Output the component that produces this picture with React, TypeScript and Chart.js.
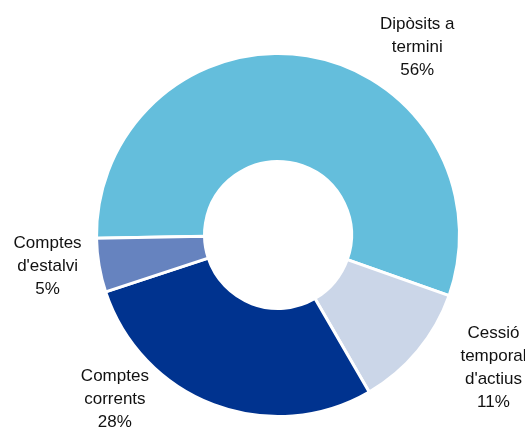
import React, { useEffect, useRef } from "react";
import { Chart, registerables } from "chart.js";

Chart.register(...registerables);

const categories = [
  "Dipòsits a termini",
  "Cessió temporal d'actius",
  "Comptes corrents",
  "Comptes d'estalvi",
];
const labelLines = [
  ["Dipòsits a", "termini"],
  ["Cessió", "temporal", "d'actius"],
  ["Comptes", "corrents"],
  ["Comptes", "d'estalvi"],
];
const values = [55.7, 11.2, 28.3, 4.8];
const colors = ["#64BEDC", "#CBD6E8", "#00338F", "#6683BF"];

// label placement: angle (deg, clockwise from 3 o'clock) and distance beyond outer radius
const labelAngles = [-53.4, 31.6, 134.8, 172.3];
const labelOffsets = [52, 71.5, 50, 51];

const outsideLabels = {
  id: "outsideLabels",
  afterDraw(chart: any) {
    const meta = chart.getDatasetMeta(0);
    if (!meta || !meta.data.length) return;
    const arc0: any = meta.data[0];
    const cx = arc0.x;
    const cy = arc0.y;
    const R = arc0.outerRadius;
    const ctx = chart.ctx;
    const total = values.reduce((a, b) => a + b, 0);
    const lh = 23;
    ctx.save();
    ctx.font = "17px 'Liberation Sans', Arial, sans-serif";
    ctx.fillStyle = "#111111";
    ctx.textAlign = "center";
    ctx.textBaseline = "middle";
    values.forEach((v, i) => {
      const a = (labelAngles[i] * Math.PI) / 180;
      const d = R + labelOffsets[i];
      const x = cx + Math.cos(a) * d;
      const y = cy + Math.sin(a) * d;
      const lines = [...labelLines[i], Math.round((v / total) * 100) + "%"];
      const top = y - ((lines.length - 1) * lh) / 2;
      lines.forEach((t, j) => ctx.fillText(t, x, top + j * lh));
    });
    ctx.restore();
  },
};

export default function App() {
  const ref = useRef<HTMLCanvasElement | null>(null);
  useEffect(() => {
    if (!ref.current) return;
    const chart = new Chart(ref.current, {
      type: "doughnut",
      data: {
        labels: categories,
        datasets: [
          {
            data: values,
            backgroundColor: colors,
            borderColor: "#ffffff",
            borderWidth: 3,
            hoverOffset: 0,
          },
        ],
      },
      options: {
        responsive: false,
        animation: false,
        rotation: 269,
        cutout: "40.5%",
        layout: { padding: { left: 95, right: 64, top: 52, bottom: 10 } },
        plugins: {
          legend: { display: false },
          tooltip: { enabled: false },
        },
      },
      plugins: [outsideLabels],
    });
    return () => chart.destroy();
  }, []);
  return (
    <div style={{ position: "fixed", left: 0, top: 0, width: 525, height: 428, background: "#fff" }}>
      <canvas ref={ref} width={525} height={428} />
    </div>
  );
}
